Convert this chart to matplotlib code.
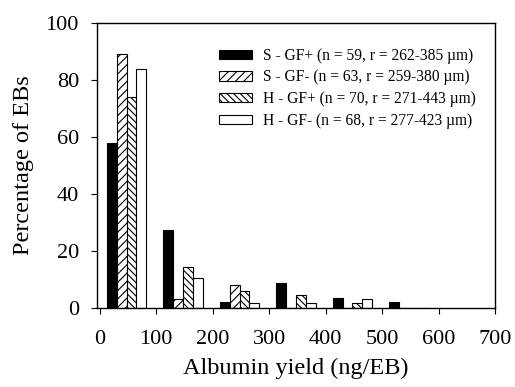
import matplotlib
matplotlib.use("Agg")
import matplotlib.pyplot as plt
import numpy as np

plt.rcParams['font.family'] = ['Liberation Serif', 'DejaVu Serif']
plt.rcParams['hatch.linewidth'] = 0.8

bins = [0, 100, 200, 300, 400, 500]
labels = ["S - GF+ (n = 59, r = 262-385 µm)",
          "S - GF- (n = 63, r = 259-380 µm)",
          "H - GF+ (n = 70, r = 271-443 µm)",
          "H - GF- (n = 68, r = 277-423 µm)"]
s_gfp = [58, 27.5, 2, 8.8, 3.5, 2]
s_gfm = [89, 3, 8.2, 0, 0, 0]
h_gfp = [74, 14.5, 6, 4.6, 1.6, 0]
h_gfm = [84, 10.5, 1.6, 1.6, 3.2, 0]

series = [s_gfp, s_gfm, h_gfp, h_gfm]
colors = ['black', 'white', 'white', 'white']
hatches = [None, '////', '\\\\\\\\\\', None]

fig = plt.figure(figsize=(5.15, 3.87), dpi=100)
ax = fig.add_axes([0.1883, 0.2041, 0.7729, 0.7365])

w = 17.5
x = np.array(bins, dtype=float)
for i, (vals, c, h, lab) in enumerate(zip(series, colors, hatches, labels)):
    ax.bar(x + 12.5 + i * w, vals, width=w, align='edge', color=c,
           edgecolor='black', hatch=h, linewidth=0.8, label=lab)

ax.set_xlim(-5, 700)
ax.set_ylim(0, 100)
ax.set_xticks(range(0, 701, 100))
ax.set_yticks(range(0, 101, 20))
ax.tick_params(direction='out', length=4, width=0.8, labelsize=16,
               top=False, right=False)
ax.tick_params(axis='x', pad=12)
ax.tick_params(axis='y', pad=9)
for s in ax.spines.values():
    s.set_linewidth(1.0)
ax.set_xlabel("Albumin yield (ng/EB)", fontsize=17.5, labelpad=6)
ax.set_ylabel("Percentage of EBs", fontsize=17.5, labelpad=8.5)

leg = ax.legend(loc='upper left', bbox_to_anchor=(0.291, 0.935), frameon=False,
                fontsize=11.2, handlelength=2.15, handleheight=0.55,
                handletextpad=0.65, labelspacing=0.37, borderaxespad=0)

fig.savefig("out.png", dpi=100)
